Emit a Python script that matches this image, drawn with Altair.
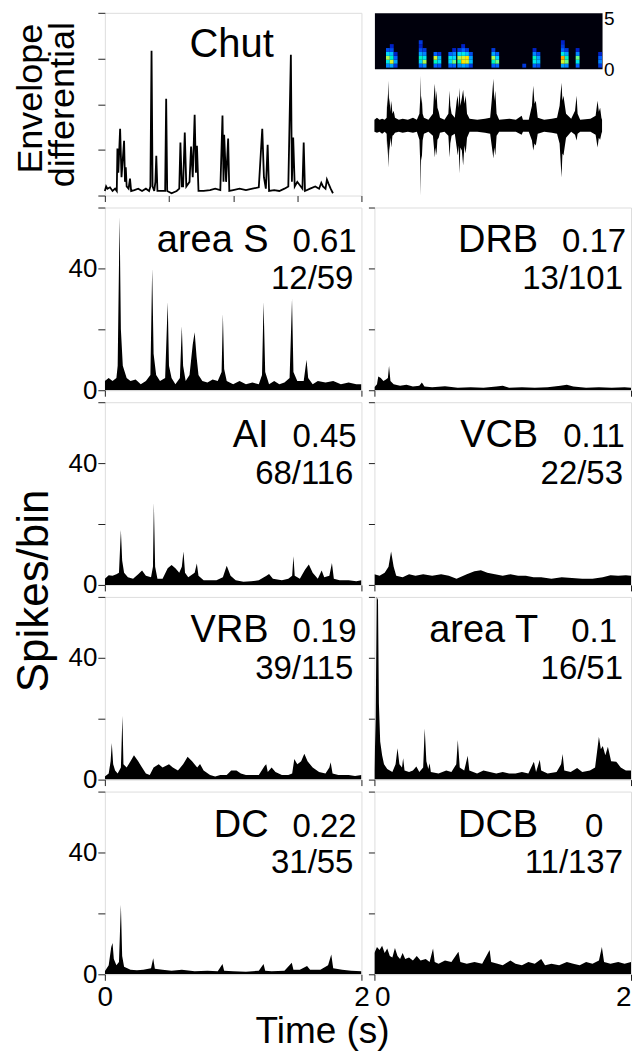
import altair as alt
import pandas as pd

FONT = "Liberation Sans"

# ---------------- data ----------------
# envelope differential of the "Chut" stimulus (time s, value a.u.)
env_pts = [(0.0,0.1),(0.01,0.2),(0.02,0.15),(0.04,0.18),(0.06,0.1),(0.08,0.15),(0.093,0.1),(0.098,1.03),(0.105,0.5),(0.119,1.46),(0.13,0.4),(0.15,1.2),(0.157,0.3),(0.163,0.62),(0.17,0.2),(0.185,0.15),(0.196,0.37),(0.205,0.1),(0.23,0.12),(0.26,0.15),(0.29,0.1),(0.32,0.15),(0.345,0.1),(0.355,0.2),(0.364,3.17),(0.372,0.2),(0.385,0.1),(0.394,0.3),(0.401,0.87),(0.41,0.1),(0.44,0.1),(0.47,0.1),(0.478,2.12),(0.486,0.1),(0.52,0.05),(0.56,0.1),(0.58,0.15),(0.589,1.16),(0.6,0.2),(0.61,0.2),(0.623,1.38),(0.635,0.2),(0.66,0.3),(0.672,1.07),(0.685,0.4),(0.7,1.77),(0.71,0.5),(0.718,1.09),(0.73,0.1),(0.77,0.1),(0.82,0.12),(0.86,0.15),(0.9,0.12),(0.917,1.75),(0.925,0.3),(0.93,1.33),(0.945,0.3),(0.961,1.25),(0.97,0.1),(1.0,0.12),(1.05,0.15),(1.1,0.12),(1.15,0.15),(1.2,0.18),(1.227,1.46),(1.24,0.4),(1.255,0.15),(1.269,1.11),(1.28,0.1),(1.32,0.12),(1.36,0.1),(1.4,0.15),(1.43,0.2),(1.45,3.08),(1.458,0.3),(1.468,1.27),(1.48,0.2),(1.5,0.3),(1.54,0.15),(1.55,1.16),(1.56,0.1),(1.6,0.15),(1.64,0.2),(1.67,0.15),(1.687,0.28),(1.7,0.2),(1.72,0.15),(1.731,0.35),(1.745,0.25),(1.76,0.15),(1.778,0.05)]

# spectrogram: column start times (s), frequency rows (kHz), intensities per column (0..1)
spec_col_t = [0.09, 0.12, 0.15, 0.345, 0.375, 0.46, 0.49, 0.575, 0.605, 0.645, 0.675, 0.705, 0.735,
              0.91, 0.94, 1.15, 1.23, 1.26, 1.45, 1.48, 1.565, 1.74]
spec_row_f = [0.1, 0.45, 0.8, 1.15, 1.5, 1.85, 2.2]
spec_col_v = [[0.4,0.6,0.75,0.55,0.3,0,0],
              [0.45,0.8,0.65,0.5,0.3,0.2,0],
              [0.25,0.45,0.35,0.2,0,0,0],
              [0.35,0.55,0.65,0.45,0.3,0.2,0.25],
              [0.4,0.75,0.6,0.4,0.25,0,0],
              [0.35,0.65,0.8,0.35,0,0,0],
              [0.3,0.55,0.5,0.25,0,0,0],
              [0.35,0.55,0.6,0.35,0,0,0],
              [0.35,0.7,0.55,0.4,0.2,0,0],
              [0.4,0.65,0.75,0.55,0.25,0,0],
              [0.45,0.85,0.8,0.6,0.35,0.2,0],
              [0.4,0.8,0.85,0.5,0.25,0,0],
              [0.25,0.5,0.45,0.3,0,0,0],
              [0.35,0.65,0.75,0.45,0.25,0,0],
              [0.35,0.7,0.55,0.35,0,0,0],
              [0.25,0,0,0,0,0,0],
              [0.35,0.6,0.65,0.4,0.2,0,0],
              [0.3,0.5,0.45,0.3,0,0,0],
              [0.45,0.8,0.92,0.6,0.35,0.25,0.2],
              [0.4,0.7,0.65,0.45,0.25,0,0],
              [0.35,0.6,0.7,0.4,0.2,0,0],
              [0.25,0.4,0.35,0.2,0,0,0]]
spec_labels = ["5", "0"]
spec_label_f = [5, 0]

# oscillogram (time s, upper, lower)
wave_pts = [(0.0,6,-6),(0.02,8,-7),(0.04,6,-6),(0.06,7,-8),(0.08,6,-6),(0.095,8,-8),(0.10,32,-30),(0.104,18,-15),(0.11,45,-42),(0.115,20,-25),(0.12,28,-20),(0.125,14,-12),(0.132,25,-22),(0.14,12,-10),(0.15,15,-9),(0.16,8,-7),(0.19,6,-6),(0.22,7,-7),(0.26,6,-6),(0.30,8,-7),(0.33,6,-6),(0.35,12,-14),(0.357,30,-40),(0.36,50,-70),(0.363,22,-30),(0.368,30,-35),(0.375,12,-15),(0.385,8,-8),(0.42,6,-6),(0.455,12,-10),(0.465,35,-25),(0.47,42,-32),(0.476,25,-22),(0.482,35,-30),(0.49,18,-14),(0.5,14,-12),(0.51,8,-7),(0.545,6,-6),(0.575,12,-10),(0.585,35,-32),(0.59,20,-18),(0.6,12,-10),(0.625,8,-8),(0.64,25,-22),(0.648,30,-30),(0.655,18,-20),(0.662,38,-48),(0.668,20,-22),(0.68,28,-25),(0.69,36,-40),(0.70,22,-20),(0.71,30,-28),(0.72,12,-12),(0.74,7,-6),(0.8,6,-6),(0.86,7,-7),(0.9,8,-8),(0.912,25,-20),(0.925,47,-33),(0.932,25,-22),(0.94,35,-30),(0.95,12,-10),(0.97,6,-6),(1.05,7,-6),(1.1,6,-6),(1.145,10,-9),(1.155,6,-6),(1.2,6,-6),(1.225,20,-15),(1.235,40,-25),(1.245,22,-18),(1.255,25,-20),(1.27,8,-8),(1.32,6,-6),(1.38,7,-7),(1.42,8,-8),(1.44,20,-18),(1.455,43,-52),(1.462,25,-28),(1.47,30,-30),(1.49,12,-12),(1.53,7,-6),(1.56,15,-9),(1.572,30,-15),(1.58,12,-8),(1.6,6,-6),(1.68,7,-6),(1.72,10,-9),(1.735,25,-22),(1.745,14,-12),(1.755,18,-14),(1.765,8,-8),(1.77,6,-6)]

# PSTHs (time s, spikes/bin)
areaS = [(0.0,3),(0.03,4),(0.06,3),(0.09,4),(0.10,8),(0.115,57),(0.125,20),(0.14,8),(0.17,4),(0.20,3),(0.24,3.5),(0.28,2),(0.32,3),(0.355,5),(0.369,40),(0.38,12),(0.40,5),(0.43,3),(0.47,4),(0.49,29),(0.50,8),(0.52,4),(0.55,2),(0.585,4),(0.60,21),(0.61,8),(0.63,3),(0.66,5),(0.685,15),(0.70,19),(0.715,11),(0.73,5),(0.76,3),(0.80,2.5),(0.84,3.5),(0.88,3),(0.91,6),(0.92,25),(0.93,7),(0.95,3),(1.0,2),(1.05,3),(1.10,2),(1.15,2.5),(1.20,2),(1.225,5),(1.237,29),(1.25,6),(1.28,2),(1.32,3),(1.36,2),(1.40,2.5),(1.44,4),(1.459,30),(1.47,6),(1.50,3),(1.55,3),(1.572,10),(1.585,4),(1.62,2),(1.66,3),(1.72,2.5),(1.78,3),(1.84,2),(1.90,2.5),(1.96,2),(2.0,2)]
DRB = [(0.0,1),(0.02,2),(0.03,4.5),(0.05,4),(0.07,3),(0.09,3.5),(0.105,4),(0.114,8),(0.125,3),(0.15,2),(0.2,1.5),(0.25,1.8),(0.30,1.2),(0.35,1.5),(0.37,2.5),(0.39,1.2),(0.45,1),(0.55,1.3),(0.65,0.8),(0.75,1),(0.85,0.8),(0.95,1.2),(1.0,1.5),(1.05,0.8),(1.15,1),(1.25,0.8),(1.35,1),(1.45,1.5),(1.5,1.8),(1.55,1.2),(1.65,0.8),(1.75,1),(1.85,0.8),(1.95,1),(2.0,0.8)]
AI = [(0.0,2),(0.03,3.2),(0.06,3),(0.09,3.5),(0.11,4),(0.125,18),(0.135,8),(0.15,4),(0.18,2.5),(0.22,2),(0.26,3.5),(0.29,4.7),(0.32,3),(0.36,2.5),(0.375,6),(0.382,27),(0.392,6),(0.41,2),(0.45,2),(0.49,5.5),(0.52,6.5),(0.55,5.5),(0.58,4),(0.60,6),(0.613,11),(0.625,4),(0.65,2.5),(0.70,4),(0.717,7),(0.73,3),(0.77,1.5),(0.82,1.5),(0.87,1.5),(0.92,2.5),(0.95,6.3),(0.98,3),(1.02,1.5),(1.08,1),(1.14,1.2),(1.2,1.5),(1.26,3),(1.28,3.6),(1.31,2),(1.38,1.5),(1.43,2),(1.46,3),(1.47,9.4),(1.48,3),(1.52,2),(1.56,5),(1.59,6.7),(1.62,4),(1.66,2),(1.69,4.7),(1.71,2.5),(1.75,3),(1.77,7.2),(1.785,2),(1.83,1.5),(1.9,1.5),(1.96,1.2),(2.0,1.5)]
VCB = [(0.0,3.5),(0.04,3),(0.08,4),(0.11,6),(0.13,11),(0.15,6),(0.17,3),(0.22,2.5),(0.27,3.5),(0.32,3),(0.38,3.5),(0.45,3),(0.52,3.5),(0.58,3),(0.64,2),(0.72,3.5),(0.78,4.5),(0.83,4.8),(0.88,4),(0.94,3.5),(1.0,3),(1.06,3.5),(1.12,3),(1.18,3),(1.24,2.5),(1.3,2.5),(1.38,2),(1.46,2.5),(1.54,2.3),(1.62,2),(1.7,2),(1.78,2.5),(1.84,3.2),(1.9,3),(1.96,3.2),(2.0,3)]
VRB = [(0.0,1),(0.03,2),(0.045,6),(0.054,12),(0.065,5),(0.08,3),(0.1,2),(0.125,4),(0.137,21),(0.145,5),(0.17,4),(0.2,6),(0.227,8),(0.26,6),(0.29,4),(0.32,2),(0.35,1.5),(0.38,4),(0.42,5),(0.45,4),(0.50,5),(0.53,4),(0.57,3),(0.61,5),(0.645,7.5),(0.68,6),(0.72,4),(0.742,5.1),(0.77,3),(0.82,1.5),(0.86,1),(0.90,1.5),(0.95,1.5),(0.985,3),(1.026,3),(1.06,2),(1.1,1.5),(1.16,1.5),(1.2,1.5),(1.245,4.5),(1.258,5),(1.27,2.5),(1.3,4),(1.33,2.5),(1.38,1.5),(1.43,1.5),(1.46,2),(1.477,6.8),(1.5,5),(1.53,6),(1.555,8.5),(1.58,6),(1.62,4),(1.67,2.5),(1.72,2),(1.75,4),(1.76,5.7),(1.775,2),(1.82,1.5),(1.9,1.5),(1.95,1.2),(2.0,1.5)]
areaT = [(0.0,3),(0.01,20),(0.018,60),(0.028,59),(0.035,25),(0.045,12.5),(0.06,8),(0.075,5),(0.10,3.5),(0.14,2.5),(0.165,5),(0.18,10.3),(0.195,5),(0.215,4),(0.224,7),(0.235,3),(0.27,2.5),(0.3,3),(0.327,4.3),(0.35,2.5),(0.38,4),(0.392,16.8),(0.405,6),(0.42,3.5),(0.43,5.4),(0.44,2.5),(0.5,2),(0.56,3),(0.6,2.5),(0.638,5),(0.65,13),(0.665,4),(0.7,3),(0.727,7.8),(0.74,3),(0.8,2),(0.85,3),(0.9,2.5),(0.95,2),(1.0,2.5),(1.05,2),(1.1,2),(1.15,2.5),(1.2,2),(1.243,5.9),(1.26,2.5),(1.289,6.5),(1.3,3),(1.35,2),(1.42,2.5),(1.455,5),(1.467,8.4),(1.48,3),(1.53,2.5),(1.58,3.8),(1.62,2.5),(1.68,3),(1.72,4),(1.75,14.1),(1.765,10),(1.78,11),(1.8,8),(1.82,10.8),(1.845,6),(1.885,5.9),(1.92,4),(1.96,3),(2.0,3)]
DC = [(0.0,1),(0.03,3),(0.05,9),(0.06,10.3),(0.07,5),(0.09,3),(0.11,4),(0.125,22.8),(0.135,6),(0.15,2.5),(0.2,1.5),(0.25,1.3),(0.3,1.5),(0.36,2),(0.377,5.3),(0.39,1.8),(0.45,1.5),(0.52,1.2),(0.6,1.5),(0.7,1),(0.8,1.2),(0.88,1),(0.917,3.4),(0.93,1.2),(1.0,1),(1.1,0.8),(1.2,1.2),(1.237,3.4),(1.25,1.2),(1.3,1),(1.4,1.2),(1.457,3.8),(1.47,1.5),(1.52,1.5),(1.576,2.7),(1.6,1.5),(1.68,1.5),(1.74,3),(1.765,6.5),(1.78,2),(1.85,1.5),(1.92,1.2),(2.0,1)]
DCB = [(0.0,7),(0.02,9),(0.04,8),(0.06,9.4),(0.08,7),(0.1,8.5),(0.12,6),(0.14,5.5),(0.16,8.6),(0.18,6),(0.2,5),(0.22,7),(0.24,5),(0.27,5.5),(0.3,4.5),(0.33,6),(0.36,4.5),(0.4,5),(0.43,4),(0.457,8.5),(0.47,4),(0.5,3.5),(0.55,4.5),(0.6,4),(0.655,7.4),(0.67,4),(0.72,3.5),(0.78,4),(0.84,3.5),(0.898,8),(0.91,4),(0.96,3.5),(1.0,3),(1.06,4.5),(1.1,3.5),(1.15,3),(1.2,4),(1.25,3.5),(1.3,5),(1.33,3),(1.38,3.5),(1.44,3),(1.5,4),(1.55,3.5),(1.6,3),(1.65,4),(1.7,3.5),(1.75,4.5),(1.773,9),(1.79,4),(1.84,3.5),(1.9,4),(1.95,3.5),(2.0,4)]

panel_series = [areaS, DRB, AI, VCB, VRB, areaT, DC, DCB]
panel_names = ["area S", "DRB", "AI", "VCB", "VRB", "area T", "DC", "DCB"]
panel_scores = ["0.61", "0.17", "0.45", "0.11", "0.19", "0.1", "0.22", "0"]
panel_counts = ["12/59", "13/101", "68/116", "22/53", "39/115", "16/51", "31/55", "11/137"]

y_ticks = [0, 20, 40, 60]
x_ticks = [0, 1, 2]

# ---------------- layout constants ----------------
PW, PH = 257, 183
BOX = "#8f8f8f"
TICK = "#222222"


def txt(value, x, y, size, align="center", baseline="alphabetic", angle=0):
    props = dict(font=FONT, fontSize=size, align=align, baseline=baseline, color="black")
    if angle:
        props["angle"] = angle
    return alt.Chart(pd.DataFrame({"s": [0]})).mark_text(text=value, **props).encode(
        x=alt.value(x), y=alt.value(y))


def psth(i, left, bottom, extras=()):
    df = pd.DataFrame(panel_series[i], columns=["t", "v"])
    xa = alt.Axis(values=x_ticks, labels=bottom, title=None, tickSize=6, tickColor=TICK, format="d",
                  labelFontSize=28, labelPadding=3, labelFont=FONT, labelColor="black",
                  labelFlush=(not left), domain=False, grid=False)
    if left:
        ya = alt.Axis(values=y_ticks, title=None, tickSize=7, tickColor=TICK, labelFontSize=26,
                      labelPadding=1, labelFont=FONT, labelColor="black", domain=False, grid=False,
                      labelExpr="datum.value == 0 || datum.value == 40 ? datum.label : ''")
    else:
        ya = alt.Axis(values=y_ticks, title=None, labels=False, tickSize=6, tickColor=TICK,
                      domain=False, grid=False)
    area = alt.Chart(df).mark_area(color="black", interpolate="linear", clip=True).encode(
        x=alt.X("t:Q", scale=alt.Scale(domain=[0, 2], nice=False), axis=xa),
        y=alt.Y("v:Q", scale=alt.Scale(domain=[0, 60], nice=False), axis=ya),
    )
    layers = [area,
              txt(panel_names[i], 164, 45, 38, align="right"),
              txt(panel_scores[i], 220, 45, 33, align="center"),
              txt(panel_counts[i], 249, 82, 33, align="right")]
    layers += list(extras)
    return alt.layer(*layers).properties(width=PW, height=PH)


# envelope panel
env_df = pd.DataFrame(env_pts, columns=["t", "v"])
env_line = alt.Chart(env_df).mark_line(color="black", strokeWidth=1.8).encode(
    x=alt.X("t:Q", scale=alt.Scale(domain=[0, 2], nice=False),
            axis=alt.Axis(values=[0, 0.5, 1, 1.5, 2], labels=False, title=None, tickSize=6,
                          tickColor=TICK, domain=False, grid=False)),
    y=alt.Y("v:Q", scale=alt.Scale(domain=[0, 4], nice=False),
            axis=alt.Axis(values=[0, 1, 2, 3, 4], labels=False, title=None, tickSize=7,
                          tickColor=TICK, domain=False, grid=False)),
)
env_panel = alt.layer(
    env_line,
    txt("Chut", 127, 44, 40),
    txt("Envelope", -74, 86, 36, angle=270, baseline="middle"),
    txt("differential", -42, 92, 36, angle=270, baseline="middle"),
).properties(width=PW, height=PH)

# spectrogram
spec_rows = [(t, f, v) for t, col in zip(spec_col_t, spec_col_v) for f, v in zip(spec_row_f, col) if v > 0]
spec_df = pd.DataFrame(spec_rows, columns=["t", "f", "v"])
jet = ["#00001a", "#0000b4", "#0060ff", "#00d8ff", "#8cff70", "#ffe600", "#ff3c00"]
spec_rect = alt.Chart(spec_df).transform_calculate(
    t2="datum.t + 0.03", f2="datum.f + 0.35"
).mark_rect().encode(
    x=alt.X("t:Q", scale=alt.Scale(domain=[0, 1.77], nice=False), axis=None),
    x2="t2:Q",
    y=alt.Y("f:Q", scale=alt.Scale(domain=[0, 5], nice=False), axis=None),
    y2="f2:Q",
    color=alt.Color("v:Q", scale=alt.Scale(domain=[0, 0.15, 0.35, 0.55, 0.72, 0.85, 1.0], range=jet), legend=None),
)
lab_df = pd.DataFrame({"f": spec_label_f, "lab": spec_labels})
spec_lab_top = alt.Chart(lab_df).transform_filter("datum.f == 5").mark_text(
    font=FONT, fontSize=19, align="left", baseline="top", dx=2, dy=-3, color="black").encode(
    x=alt.value(228), y=alt.Y("f:Q", axis=None), text="lab:N")
spec_lab_bot = alt.Chart(lab_df).transform_filter("datum.f == 0").mark_text(
    font=FONT, fontSize=19, align="left", baseline="middle", dx=2, dy=1, color="black").encode(
    x=alt.value(228), y=alt.Y("f:Q", axis=None), text="lab:N")
spec_panel = alt.layer(spec_rect, spec_lab_top, spec_lab_bot).properties(
    width=228, height=56, view=alt.ViewBackground(fill="#00000c", stroke="transparent"))

wave_df = pd.DataFrame(wave_pts, columns=["t", "hi", "lo"])
wave_panel = alt.Chart(wave_df).mark_area(color="black", interpolate="linear").encode(
    x=alt.X("t:Q", scale=alt.Scale(domain=[0, 1.77], nice=False), axis=None),
    y=alt.Y("hi:Q", scale=alt.Scale(domain=[-70, 53], nice=False), axis=None),
    y2="lo:Q",
).properties(width=228, height=123, view=alt.ViewBackground(stroke="transparent"))

spec_wave = alt.vconcat(spec_panel, wave_panel, spacing=4, bounds="flush")

spikes_title = txt("Spikes/bin", -70, 189, 44, angle=270, baseline="middle")
time_title = txt("Time (s)", 218, 241, 37, baseline="middle")

cells = [env_panel, spec_wave,
         psth(0, True, False), psth(1, False, False),
         psth(2, True, False, [spikes_title]), psth(3, False, False),
         psth(4, True, False), psth(5, False, False),
         psth(6, True, True, [time_title]), psth(7, False, True)]

chart = alt.concat(*cells, columns=2, spacing={"row": 12, "column": 13}, bounds="flush").properties(
    padding={"left": 4, "top": 0, "right": 0, "bottom": 0}
).configure_view(stroke=BOX, strokeWidth=1.2).configure(background="white")

chart.save("out.html", embed_options={"renderer": "svg", "actions": False})
